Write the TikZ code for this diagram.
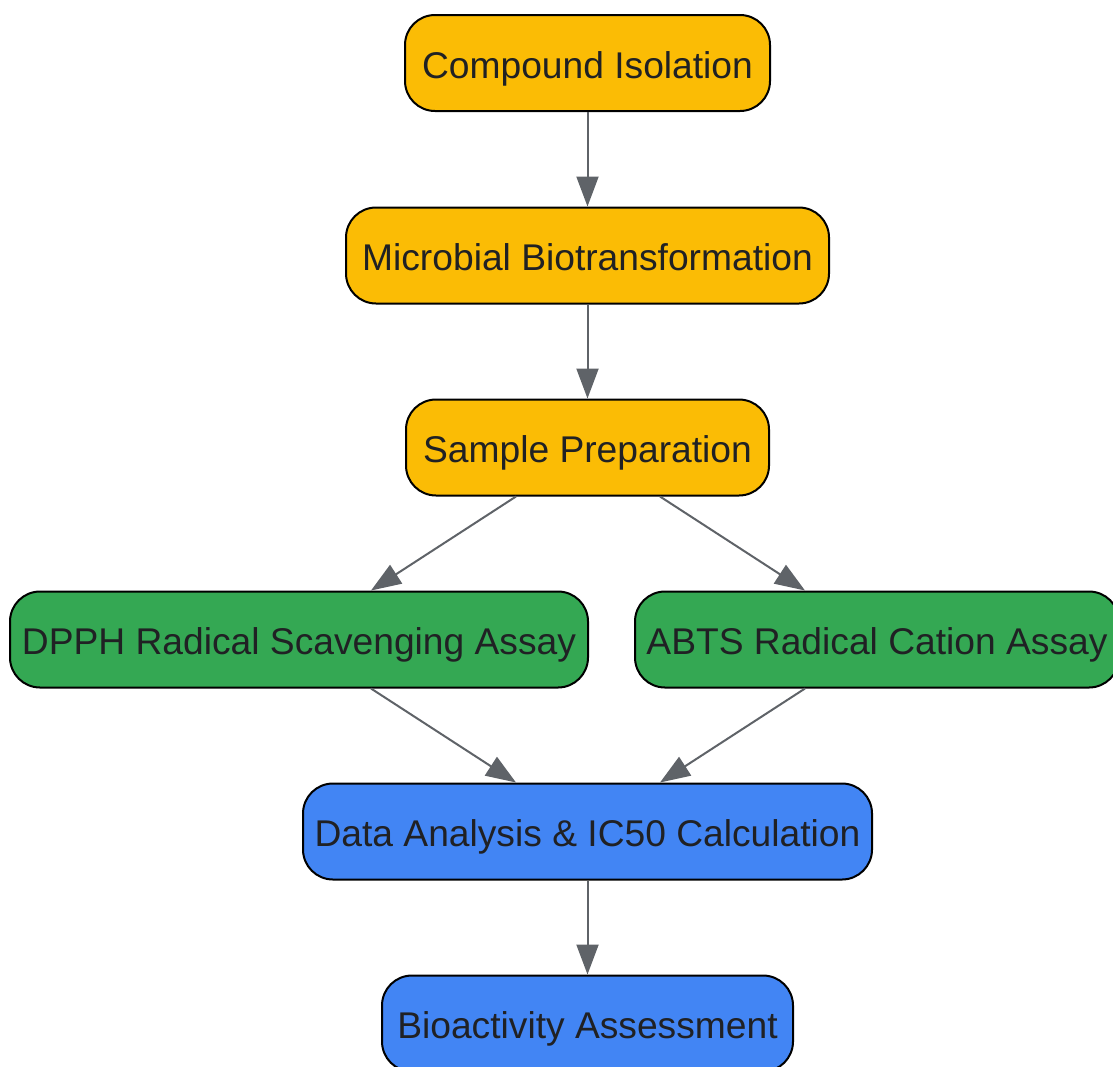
\documentclass[tikz,border=0pt]{standalone}
\usepackage{fontspec}
\setmainfont{Liberation Sans}
\usetikzlibrary{arrows.meta}
\definecolor{cyellow}{HTML}{FBBC05}
\definecolor{cgreen}{HTML}{34A853}
\definecolor{cblue}{HTML}{4285F4}
\definecolor{ctext}{HTML}{202124}
\definecolor{carrow}{HTML}{5F6368}
\begin{document}
\begin{tikzpicture}[x=1pt,y=-1pt,
  box/.style={draw=black, line width=2pt, rounded corners=30pt, minimum height=96pt,
    inner sep=0pt, text=ctext, text height=35pt, text depth=4.4pt,
    font=\fontsize{37.2}{44}\selectfont},
  ybox/.style={box, fill=cyellow},
  gbox/.style={box, fill=cgreen},
  bbox/.style={box, fill=cblue},
  conn/.style={draw=carrow, line width=2pt, -{Triangle[length=30pt,width=22pt]}}]
\useasboundingbox (0,0) rectangle (1113,1066);
\clip (0,0) rectangle (1113,1066);
\node[ybox, minimum width=365pt] (ci) at (587.5,63) {Compound Isolation};
\node[ybox, minimum width=483pt] (mb) at (587.5,255.5) {Microbial Biotransformation};
\node[ybox, minimum width=363pt] (sp) at (587.5,447.5) {Sample Preparation};
\node[gbox, minimum width=578pt] (dp) at (299,639.5) {DPPH Radical Scavenging Assay};
\node[gbox, minimum width=484pt] (ab) at (877,639.5) {ABTS Radical Cation Assay};
\node[bbox, minimum width=569pt] (da) at (587.5,831.5) {Data Analysis \& IC50 Calculation};
\node[bbox, minimum width=411pt] (ba) at (587.5,1023.5) {Bioactivity Assessment};
\draw[conn] (ci.south) -- (mb.north);
\draw[conn] (mb.south) -- (sp.north);
\draw[conn] ([xshift=-71.5pt]sp.south) -- ([xshift=72pt]dp.north);
\draw[conn] ([xshift=72.5pt]sp.south) -- ([xshift=-72pt]ab.north);
\draw[conn] ([xshift=72pt]dp.south) -- ([xshift=-71.5pt]da.north);
\draw[conn] ([xshift=-72pt]ab.south) -- ([xshift=72.5pt]da.north);
\draw[conn] (da.south) -- (ba.north);
\end{tikzpicture}
\end{document}
